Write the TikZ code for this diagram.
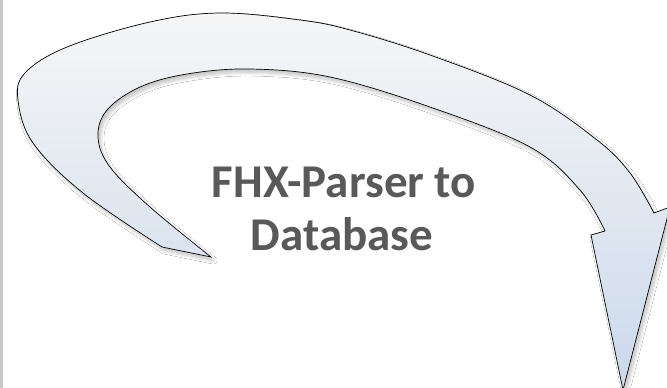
\documentclass[tikz,border=0pt]{standalone}
\usepackage{fontspec}
\setmainfont{Carlito}
\usetikzlibrary{shadows.blur}
\definecolor{topc}{HTML}{F6F6F6}
\definecolor{midc}{HTML}{D9D9DA}
\definecolor{botc}{HTML}{CBD9EC}
\definecolor{txtc}{HTML}{595959}
\definecolor{barc}{HTML}{C8C8C8}
\tikzset{
  arrowshape/.style={draw=black, line width=0.7pt, line join=miter,
    top color=topc, middle color=midc, bottom color=botc,
    blur shadow={shadow xshift=2.5pt, shadow yshift=-3.5pt, shadow blur steps=10, shadow opacity=25, shadow blur radius=3.5pt}},
  label/.style={font=\bfseries\fontsize{47}{53}\selectfont, text=txtc, inner sep=0pt, anchor=base}
}
\begin{document}
\begin{tikzpicture}[x=1pt,y=-1pt]
\useasboundingbox (0,0) rectangle (667,388);
\clip (0,0) rectangle (667,388);
\fill[white] (0,0) rectangle (667,388);
\fill[barc] (0,0) rectangle (3,388);
\path[arrowshape]
  plot[smooth,tension=0.6] coordinates {(162,247) (83,193) (33,143) (18,100) (25,73) (67,47) (150,22) (220,13) (300,20) (350,30) (430,55) (530,95) (597,140) (630,173) (654,213)}
  -- (670,207) -- (623,390) -- (591,235)
  -- plot[smooth,tension=0.6] coordinates {(605,231) (580,190) (530,147) (430,107) (330,77) (250,69) (187,74) (140,87) (107,110) (98,137) (110,167) (150,207) (211,257)}
  -- cycle;
\node[label] (t1) at (344,197) {FHX-Parser to};
\node[label] (t2) at (342,250) {Database};
\end{tikzpicture}
\end{document}
